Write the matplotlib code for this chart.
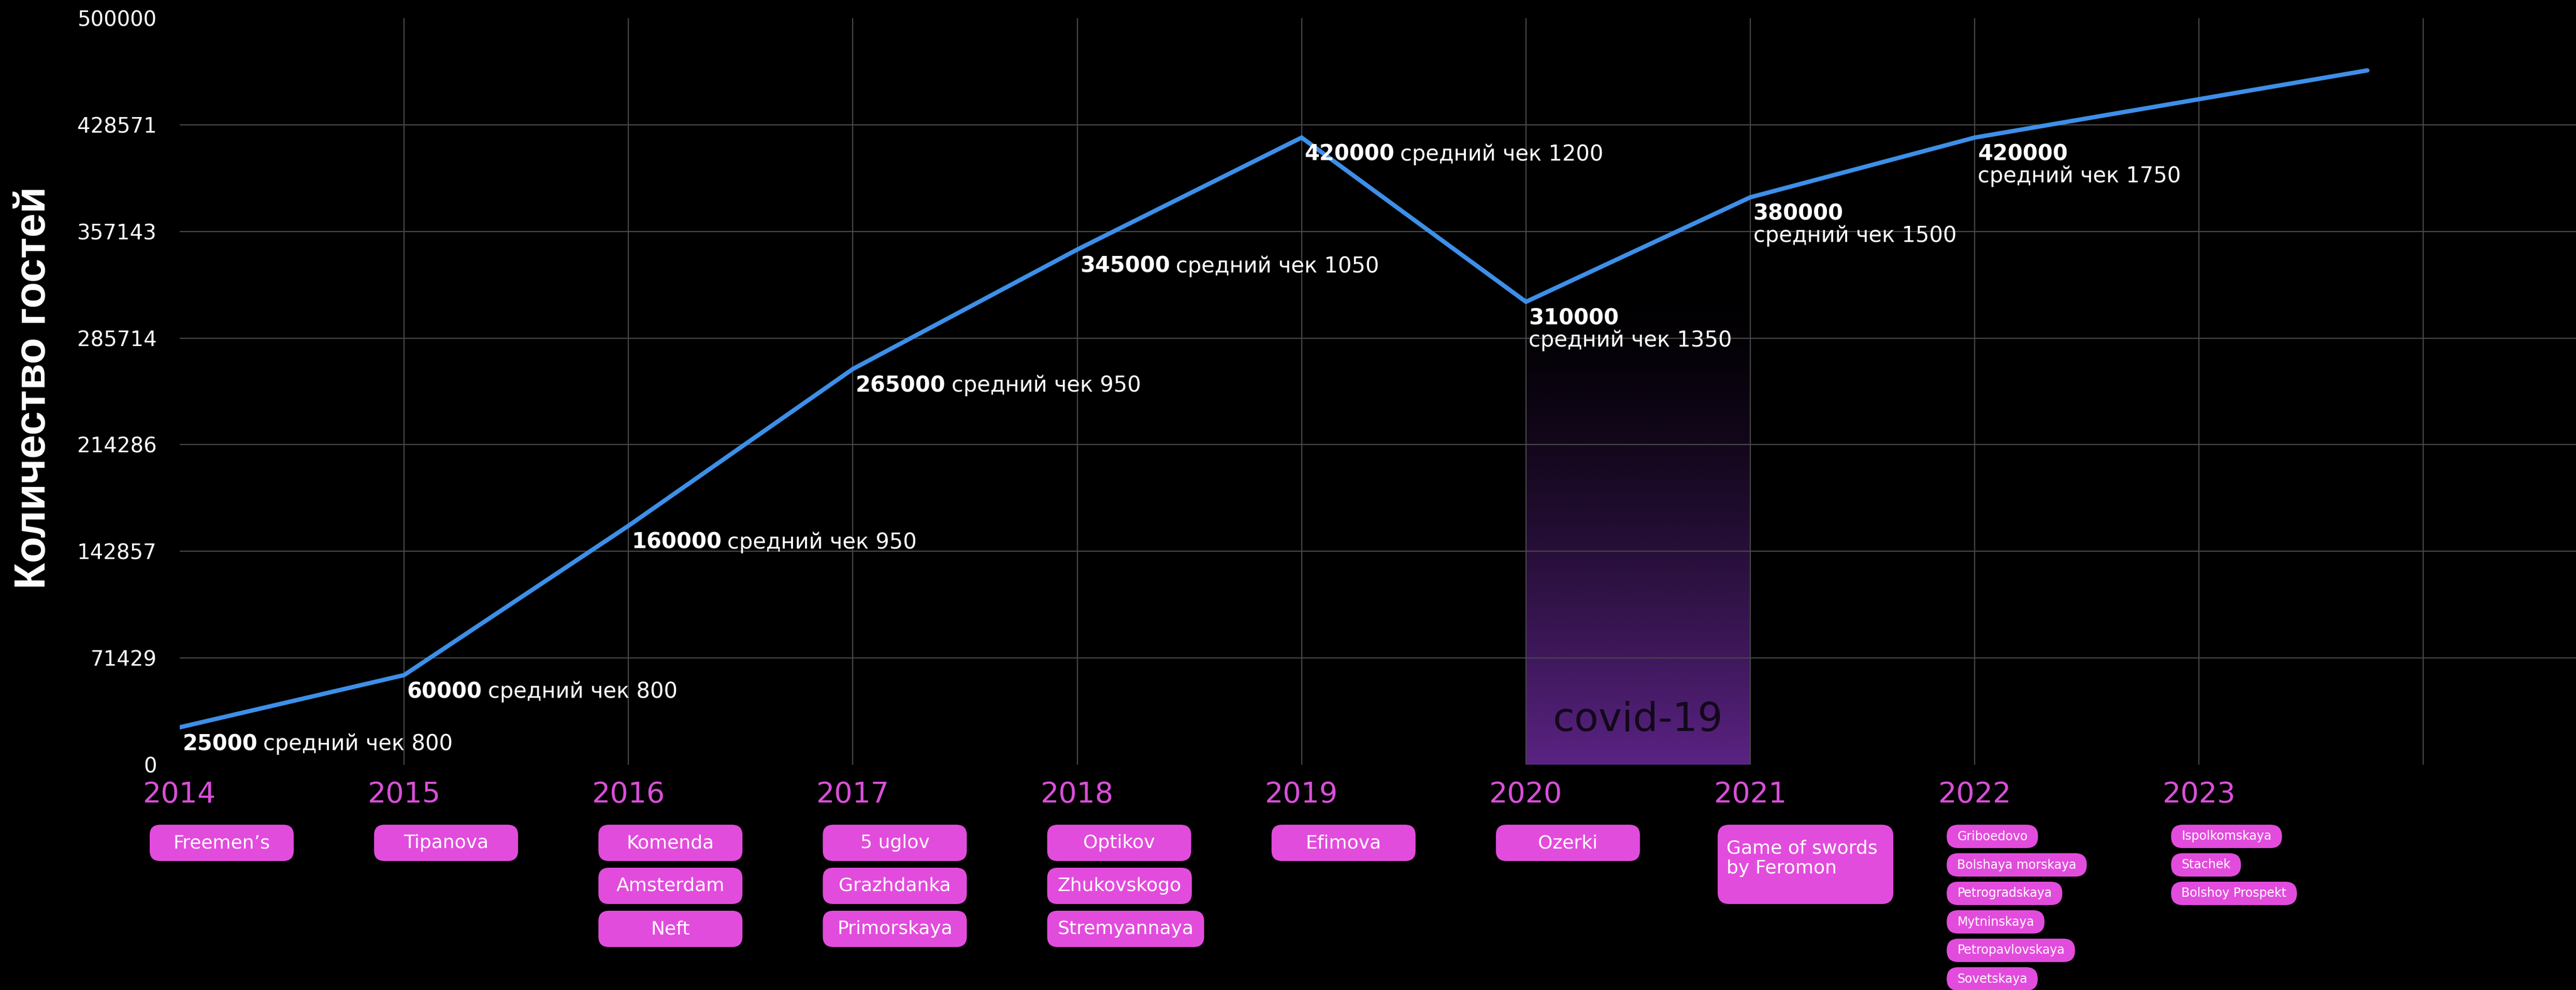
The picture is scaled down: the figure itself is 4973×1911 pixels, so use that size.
import matplotlib.pyplot as plt
import numpy as np
from matplotlib.patches import FancyBboxPatch

# Data
years = [2014, 2015, 2016, 2017, 2018, 2019, 2020, 2021, 2022, 2023.75]
guests = [25000, 60000, 160000, 265000, 345000, 420000, 310000, 380000, 420000, 465000]

label_years = [2014, 2015, 2016, 2017, 2018, 2019, 2020, 2021, 2022]
label_guests = [25000, 60000, 160000, 265000, 345000, 420000, 310000, 380000, 420000]
avg_check = [800, 800, 950, 950, 1050, 1200, 1350, 1500, 1750]
two_lines = [False, False, False, False, False, False, True, True, True]

tick_years = [2014, 2015, 2016, 2017, 2018, 2019, 2020, 2021, 2022, 2023, 2024]
tick_labels = ['2014', '2015', '2016', '2017', '2018', '2019', '2020', '2021', '2022', '2023', '']
y_ticks = [0, 71429, 142857, 214286, 285714, 357143, 428571, 500000]

venue_years = [2014, 2015, 2016, 2017, 2018, 2019, 2020]
venues = [
    ['Freemen’s'],
    ['Tipanova'],
    ['Komenda', 'Amsterdam', 'Neft'],
    ['5 uglov', 'Grazhdanka', 'Primorskaya'],
    ['Optikov', 'Zhukovskogo', 'Stremyannaya'],
    ['Efimova'],
    ['Ozerki'],
]
big_venue_year = 2021
big_venue = 'Game of swords\nby Feromon'
small_venue_years = [2022, 2023]
small_venues = [
    ['Griboedovo', 'Bolshaya morskaya', 'Petrogradskaya', 'Mytninskaya',
     'Petropavlovskaya', 'Sovetskaya'],
    ['Ispolkomskaya', 'Stachek', 'Bolshoy Prospekt'],
]
covid_years = (2020, 2021)
covid_top = 320000

# Colors
bg = 'black'
line_color = '#3D8FE8'
pink = '#E24CDC'
year_color = '#D94FD8'
purple = np.array([91, 35, 132]) / 255

plt.rcParams['font.family'] = ['DejaVu Sans']

W, H, DPI = 4973, 1911, 100
fig = plt.figure(figsize=(W / DPI, H / DPI), dpi=DPI, facecolor=bg)
ax = fig.add_axes([347 / W, 435 / H, 1 - 347 / W, (1911 - 35 - 435) / H])
ax.set_facecolor(bg)

ax.set_xlim(2014, 2024.68)
ax.set_ylim(0, 500000)

# grid
ax.set_xticks(tick_years)
ax.set_xticklabels(tick_labels)
ax.set_yticks(y_ticks)
ax.set_yticklabels([str(v) for v in y_ticks])
ax.grid(True, color='#474747', linewidth=1.6)
ax.xaxis.get_gridlines()[0].set_visible(False)
ax.yaxis.get_gridlines()[0].set_visible(False)
ax.yaxis.get_gridlines()[-1].set_visible(False)
for s in ax.spines.values():
    s.set_visible(False)
ax.tick_params(axis='x', length=0, pad=22, labelsize=40, labelcolor=year_color)
ax.tick_params(axis='y', length=0, pad=32, labelsize=29, labelcolor='white')

# covid gradient block
n = 256
frac = np.linspace(0, 1, n)[:, None]  # 0 at bottom, 1 at top
alpha = (1 - frac) ** 1.4
grad = np.zeros((n, 1, 4))
grad[..., :3] = purple
grad[..., 3] = alpha
ax.imshow(grad, extent=[covid_years[0], covid_years[1], 0, covid_top],
          origin='lower', aspect='auto', zorder=0, interpolation='bilinear')
ax.text(sum(covid_years) / 2, 30000, 'covid-19', ha='center', va='center',
        fontsize=55, color='#12081a', zorder=3)

# main line
ax.plot(years, guests, color=line_color, linewidth=6, solid_capstyle='round',
        solid_joinstyle='miter', zorder=4)

# point labels
for x, g, c, two in zip(label_years, label_guests, avg_check, two_lines):
    t = ax.annotate(str(g), (x, g), xytext=(4, -8), textcoords='offset points',
                    ha='left', va='top', fontsize=30, fontweight='bold',
                    color='white', zorder=5)
    if two:
        ax.annotate(f'средний чек {c}', xy=(0, 0), xycoords=t, ha='left', va='top',
                    fontsize=30, color='white', zorder=5)
    else:
        ax.annotate(f'средний чек {c}', xy=(1, 0), xycoords=t, xytext=(8, 0),
                    textcoords='offset points', ha='left', va='bottom',
                    fontsize=30, color='white', zorder=5)

fig.text(65 / W, 1 - 748 / H, 'Количество гостей', rotation=90, ha='center',
         va='center', fontsize=60, fontweight='bold', color='white',
         family=['Liberation Sans', 'DejaVu Sans'])

# venue boxes (pixel coordinates, y from bottom)
renderer = fig.canvas.get_renderer()


def year_px(yr):
    return ax.transData.transform((yr, 0))[0]


def add_box(x0, top, w, h, r):
    fig.add_artist(FancyBboxPatch((x0, H - top - h), w, h,
                                  boxstyle=f'round,pad=0,rounding_size={r}',
                                  facecolor=pink, edgecolor='none',
                                  transform=None))


for yr, names in zip(venue_years, venues):
    left = year_px(yr) - 58
    for j, name in enumerate(names):
        top = 1592 + j * 83
        t = fig.text(0, 0, name, fontsize=26, color='white', ha='center',
                     va='center', transform=None, zorder=3)
        tw = t.get_window_extent(renderer).width
        w = max(278, tw + 40)
        t.set_position((left + w / 2, H - top - 35))
        add_box(left, top, w, 70, 20)

left = year_px(big_venue_year) - 63
add_box(left, 1592, 339, 153, 22)
fig.text(left + 17, H - 1620, big_venue, fontsize=26, color='white', ha='left',
         va='top', linespacing=1.2, transform=None, zorder=3)

for yr, names in zip(small_venue_years, small_venues):
    left = year_px(yr) - 54
    for j, name in enumerate(names):
        top = 1592 + j * 55
        t = fig.text(left + 20, H - top - 22.5, name, fontsize=17, color='white',
                     ha='left', va='center', transform=None, zorder=3)
        tw = t.get_window_extent(renderer).width
        add_box(left, top, tw + 40, 45, 22)

fig.savefig('out.png', dpi=DPI, facecolor=bg)
